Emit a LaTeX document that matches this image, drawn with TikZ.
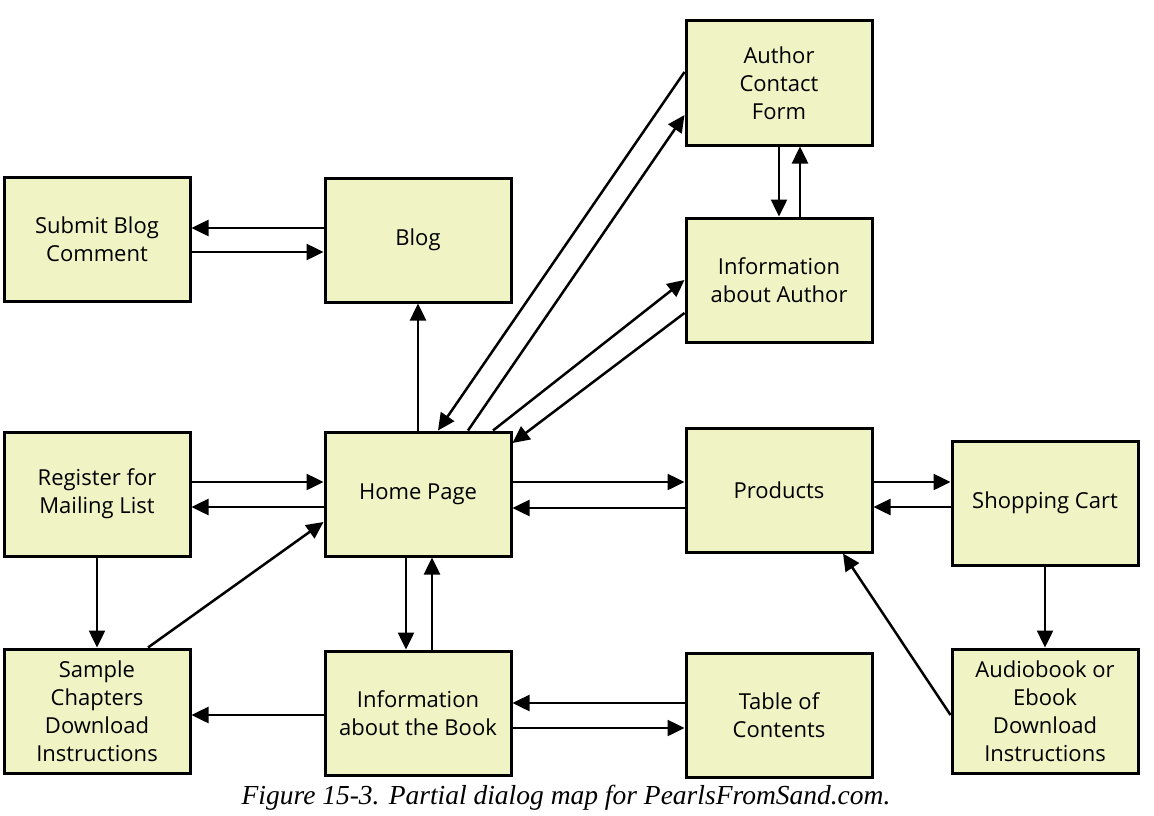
\documentclass[tikz,border=0pt]{standalone}
\usepackage{fontspec}
\setmainfont{Open Sans}
\newfontfamily\capfont{Liberation Serif}
\usetikzlibrary{arrows.meta}
\definecolor{boxfill}{RGB}{240,243,196}
\tikzset{
  box/.style={draw=black, line width=3pt, fill=boxfill, minimum width=186pt, minimum height=124pt,
    inner sep=0pt, align=center, font=\fontsize{22}{28}\selectfont},
  arr/.style={line width=2.5pt, -{Triangle[length=17pt,width=16pt]}},
}
\begin{document}
\begin{tikzpicture}[x=1pt,y=-1pt]
\useasboundingbox[fill=white] (0,0) rectangle (1154,816);
\node[box] (submit) at (97,239) {Submit Blog\\Comment};
\node[box] (blog) at (418,240) {Blog};
\node[box] (acf) at (779,83) {Author\\Contact\\Form};
\node[box] (iaa) at (779,280) {Information\\about Author};
\node[box] (reg) at (97,494) {Register for\\Mailing List};
\node[box] (home) at (418,494) {Home Page};
\node[box] (prod) at (779,490) {Products};
\node[box] (cart) at (1045,503) {Shopping Cart};
\node[box] (sample) at (97,711) {Sample\\Chapters\\Download\\Instructions};
\node[box] (book) at (418,713) {Information\\about the Book};
\node[box] (toc) at (779,715) {Table of\\Contents};
\node[box] (audio) at (1045,711) {Audiobook or\\Ebook\\Download\\Instructions};
\node[font=\capfont\itshape\fontsize{27.5}{30}\selectfont, anchor=base] (cap) at (566,804) {Figure 15-3. Partial dialog map for PearlsFromSand.com.};

% Blog <-> Submit
\draw[arr] (blog.west |- 0,228) -- (submit.east |- 0,228);
\draw[arr] (submit.east |- 0,252) -- (blog.west |- 0,252);
% Home -> Blog
\draw[arr] (home.north) -- (blog.south);
% Home <-> Author Contact Form
\draw[arr] (acf.west |- 0,72) -- (home.north -| 438,0);
\draw[arr] (home.north -| 468,0) -- (acf.west |- 0,115);
% Home <-> Info about Author
\draw[arr] (home.north -| 493,0) -- (iaa.west |- 0,280);
\draw[arr] (iaa.west |- 0,313) -- (home.east |- 0,443);
% ACF <-> IAA
\draw[arr] (acf.south -| 779,0) -- (iaa.north -| 779,0);
\draw[arr] (iaa.north -| 800,0) -- (acf.south -| 800,0);
% Register <-> Home
\draw[arr] (reg.east |- 0,482) -- (home.west |- 0,482);
\draw[arr] (home.west |- 0,507) -- (reg.east |- 0,507);
% Register -> Sample
\draw[arr] (reg.south) -- (sample.north);
% Sample -> Home
\draw[arr] (sample.north -| 148,0) -- (home.west |- 0,522);
% Home <-> Book
\draw[arr] (home.south -| 406,0) -- (book.north -| 406,0);
\draw[arr] (book.north -| 432,0) -- (home.south -| 432,0);
% Book -> Sample
\draw[arr] (book.west |- 0,715) -- (sample.east |- 0,715);
% Home <-> Products
\draw[arr] (home.east |- 0,482) -- (prod.west |- 0,482);
\draw[arr] (prod.west |- 0,508) -- (home.east |- 0,508);
% Products <-> Cart
\draw[arr] (prod.east |- 0,482) -- (cart.west |- 0,482);
\draw[arr] (cart.west |- 0,507) -- (prod.east |- 0,507);
% Cart -> Audio
\draw[arr] (cart.south) -- (audio.north);
% Audio -> Products
\draw[arr] (audio.west |- 0,715) -- (prod.south -| 843,0);
% TOC <-> Book
\draw[arr] (toc.west |- 0,703) -- (book.east |- 0,703);
\draw[arr] (book.east |- 0,728) -- (toc.west |- 0,728);
\end{tikzpicture}
\end{document}
